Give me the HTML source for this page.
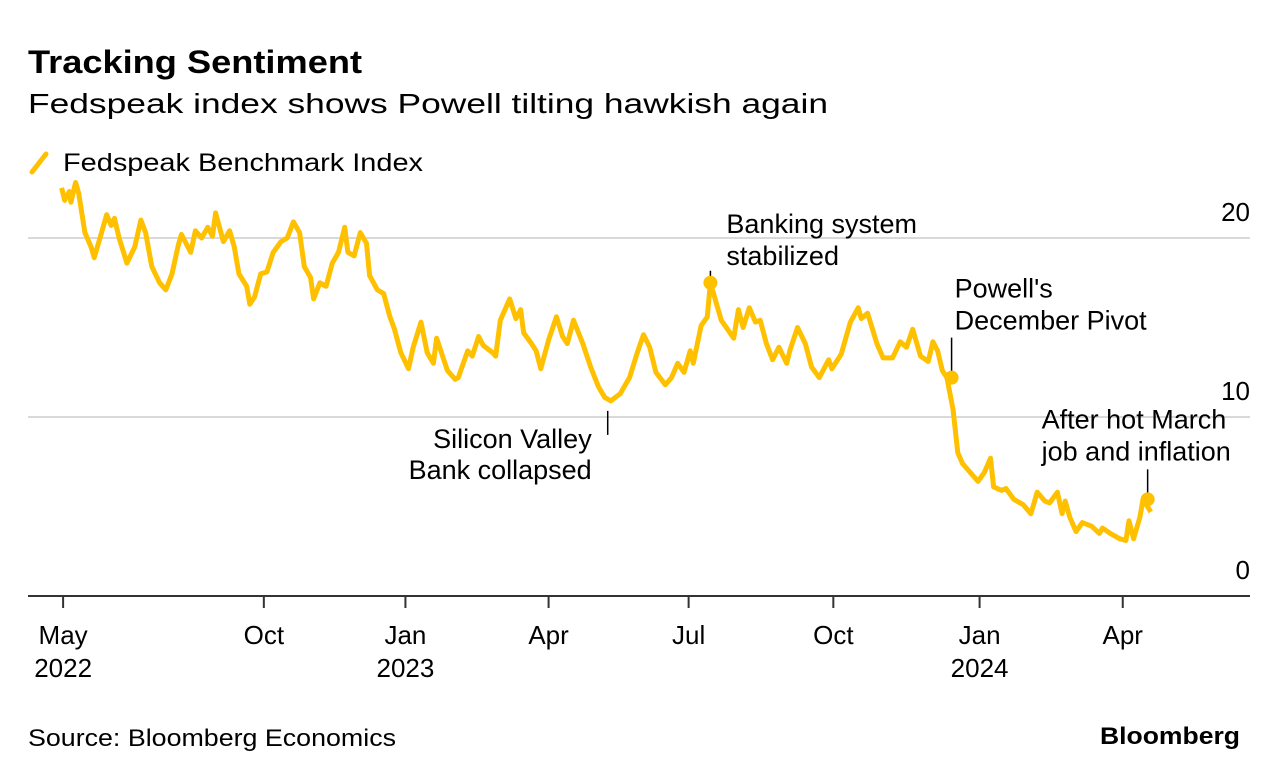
<!DOCTYPE html>
<html><head><meta charset="utf-8"><style>
body{margin:0;background:#fff;width:1279px;height:778px;overflow:hidden;font-family:"Liberation Sans",sans-serif}
svg text{font-family:"Liberation Sans",sans-serif;fill:#000}
</style></head><body>
<svg id="chart" width="1279" height="778">
<text x="28" y="73" font-size="32" font-weight="bold" textLength="334" lengthAdjust="spacingAndGlyphs">Tracking Sentiment</text>
<text x="28" y="113" font-size="28" textLength="800" lengthAdjust="spacingAndGlyphs">Fedspeak index shows Powell tilting hawkish again</text>
<line x1="32" y1="172" x2="46" y2="154" stroke="#FFC000" stroke-width="5" stroke-linecap="round"/>
<text x="63" y="171" font-size="25" textLength="360" lengthAdjust="spacingAndGlyphs">Fedspeak Benchmark Index</text>
<g id="grid"></g><g id="xaxis"></g><g id="annot"></g><g id="series"></g>
<text x="28" y="746" font-size="24" textLength="368" lengthAdjust="spacingAndGlyphs">Source: Bloomberg Economics</text>
<text x="1240" y="744" font-size="24" font-weight="bold" text-anchor="end" textLength="140" lengthAdjust="spacingAndGlyphs">Bloomberg</text>
</svg>
<script>
const days=[1,3,6,7,10,12,16,20,22,26,30,33,35,38,43,48,52,55,59,64,68,72,76,78,84,87,91,95,98,100,105,109,112,115,120,122,125,129,133,137,142,146,150,154,157,161,163,167,171,175,179,183,185,189,193,197,199,204,208,212,215,219,224,227,232,236,240,242,249,254,256,262,265,269,272,278,280,283,289,293,296,298,303,306,309,314,319,323,326,330,336,341,346,350,354,360,366,371,375,379,383,389,393,397,401,405,407,412,416,418,425,433,436,439,443,447,450,454,458,462,467,469,474,479,483,488,494,496,502,508,513,515,519,525,529,535,540,544,548,553,558,561,564,567,570,574,577,580,586,590,594,598,600,605,608,613,619,624,628,633,636,641,644,646,649,653,657,663,668,670,675,681,685,687,690,694,696,701];
const values=[22.8,22.1,22.6,22.0,23.1,22.5,20.3,19.5,18.9,20.1,21.3,20.7,21.1,20.0,18.6,19.5,21.0,20.3,18.4,17.5,17.1,18.0,19.6,20.2,19.2,20.4,20.0,20.6,20.1,21.4,19.8,20.4,19.5,18.0,17.3,16.3,16.7,18.0,18.1,19.2,19.8,20.0,20.9,20.3,18.4,17.8,16.6,17.5,17.3,18.6,19.2,20.6,19.2,19.0,20.3,19.7,17.9,17.1,16.9,15.6,14.9,13.6,12.7,13.9,15.3,13.6,13.0,14.4,12.6,12.1,12.2,13.7,13.4,14.5,14.0,13.6,13.4,15.4,16.6,15.5,16.0,14.7,14.1,13.7,12.7,14.3,15.6,14.5,14.1,15.4,14.1,12.8,11.7,11.1,10.9,11.3,12.2,13.6,14.6,13.9,12.5,11.8,12.2,13.0,12.5,13.7,13.0,15.1,15.6,17.5,15.4,14.4,16.0,15.0,16.1,15.3,15.4,14.1,13.2,13.9,13.0,13.7,15.0,14.1,12.8,12.2,13.2,12.7,13.5,15.3,16.1,15.5,15.8,14.1,13.3,13.3,14.2,13.9,14.9,13.4,13.1,14.2,13.7,12.6,12.2,10.4,8.0,7.4,6.8,6.4,6.9,7.7,6.1,5.9,6.0,5.4,5.1,4.6,5.8,5.3,5.2,5.8,4.6,5.3,4.4,3.6,4.1,3.9,3.5,3.8,3.5,3.2,3.1,4.2,3.2,4.4,5.4,4.7];
const tickDays=[2,131,222,314,404,497,591,683];
const tickLabels=[["May","2022"],["Oct",""],["Jan","2023"],["Apr",""],["Jul",""],["Oct",""],["Jan","2024"],["Apr",""]];
const yTicks=[0,10,20];
const markerDays=[352,418,573,699];
const markerValues=[10.9,17.5,12.2,5.4];

const NS="http://www.w3.org/2000/svg";
const X=d=>60+d*1.556;
const Y=v=>596-v*17.9;
function mk(tag,attrs,parent,txt){const e=document.createElementNS(NS,tag);for(const k in attrs)e.setAttribute(k,attrs[k]);if(txt!==undefined)e.textContent=txt;parent.appendChild(e);return e;}
const grid=document.getElementById('grid'),xa=document.getElementById('xaxis'),an=document.getElementById('annot'),se=document.getElementById('series');
yTicks.forEach(v=>{
  if(v>0){const l=mk('line',{x1:28,x2:1250,y1:Y(v),y2:Y(v),stroke:'#d9d9d9','stroke-width':2},grid);
  
  }
  const t=mk('text',{x:1250,y:Y(v)-17,'font-size':26,'text-anchor':'end'},grid,String(v));
  
  
});
const base=mk('line',{x1:28,x2:1250,y1:596,y2:596,stroke:'#333','stroke-width':2},xa);


tickDays.forEach((d,i)=>{
  const x=X(d);
  const tk=mk('line',{x1:x,x2:x,y1:596,y2:608,stroke:'#333','stroke-width':2},xa);
  
  
  const t=mk('text',{x:x,y:644,'font-size':26,'text-anchor':'middle'},xa,tickLabels[i][0]);
  
  
  if(tickLabels[i][1]){const t2=mk('text',{x:x,y:677,'font-size':26,'text-anchor':'middle'},xa,tickLabels[i][1]);
  
  }
});
const p=mk('polyline',{points:days.map((d,i)=>X(d).toFixed(1)+','+Y(values[i]).toFixed(1)).join(' '),fill:'none',stroke:'#FFC000','stroke-width':5,'stroke-linejoin':'round'},se);


const notes=[
 {ly1:10,ly2:34,tx:-16,lines:["Silicon Valley","Bank collapsed"],ty:[47,78],anchor:'end',dot:false},
 {ly1:-12,ly2:-3,tx:16,lines:["Banking system","stabilized"],ty:[-50,-18],anchor:'start',dot:true},
 {ly1:-40,ly2:-6,tx:3,lines:["Powell's","December Pivot"],ty:[-80,-48],anchor:'start',dot:true},
 {ly1:-30,ly2:-5,tx:-106,lines:["After hot March","job and inflation"],ty:[-71,-39],anchor:'start',dot:true}
];
markerDays.forEach((d,i)=>{
  const x=X(d),y=Y(markerValues[i]),n=notes[i];
  const l=mk('line',{x1:x,x2:x,y1:y+n.ly1,y2:y+n.ly2,stroke:'#000','stroke-width':1.5},an);
  
  
  if(n.dot){const c=mk('circle',{cx:x,cy:y,r:7,fill:'#FFC000'},se);
  
  }
  n.lines.forEach((s,j)=>{const t=mk('text',{x:x+n.tx,y:y+n.ty[j],'font-size':27,'text-anchor':n.anchor},an,s);
  
  });
});
</script>
</body></html>
